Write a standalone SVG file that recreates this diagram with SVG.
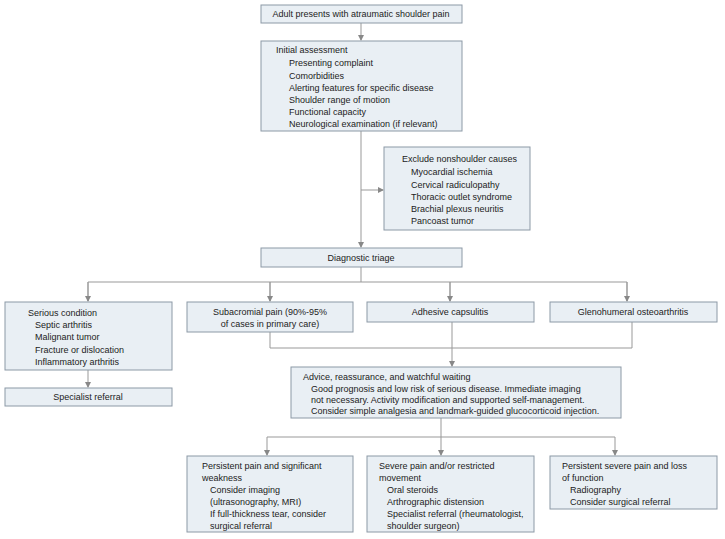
<svg xmlns="http://www.w3.org/2000/svg" width="725" height="539" viewBox="0 0 725 539">
<style>
rect{fill:#e9eff4;stroke:#8c99a6;stroke-width:1}
text{font-family:"Liberation Sans",Arial,sans-serif;font-size:9px;fill:#222}
.c{text-anchor:middle}
.l{fill:none;stroke:#999;stroke-width:1}
</style>
<defs><marker id="a" markerWidth="6" markerHeight="6" refX="5" refY="3" orient="auto" markerUnits="userSpaceOnUse"><path d="M0,0L6,3L0,6z" fill="#888"/></marker></defs>
<rect x="0" y="0" width="725" height="539" style="fill:#fff;stroke:none"/>
<g id="connectors">
<path class="l" d="M361,23V40" marker-end="url(#a)"/>
<path class="l" d="M361,131V247" marker-end="url(#a)"/>
<path class="l" d="M361,190H383" marker-end="url(#a)"/>
<path class="l" d="M361,267V282M88,282H627M88,282V301M270,282V301M450,282V301M627,282V301"/>
<path class="l" d="M88,282V301" marker-end="url(#a)"/>
<path class="l" d="M270,282V301" marker-end="url(#a)"/>
<path class="l" d="M450,282V301" marker-end="url(#a)"/>
<path class="l" d="M627,282V301" marker-end="url(#a)"/>
<path class="l" d="M88,370V387" marker-end="url(#a)"/>
<path class="l" d="M270,332V348H632V322"/>
<path class="l" d="M452,322V366" marker-end="url(#a)"/>
<path class="l" d="M441,418V437M267,437H615"/>
<path class="l" d="M267,437V455" marker-end="url(#a)"/>
<path class="l" d="M441,437V455" marker-end="url(#a)"/>
<path class="l" d="M615,437V455" marker-end="url(#a)"/>
</g>
<g id="start"><rect x="261" y="5" width="201" height="18"/><text class="c" x="361" y="17">Adult presents with atraumatic shoulder pain</text></g>
<g id="initial"><rect x="261" y="41" width="201" height="90"/>
<text x="276" y="53">Initial assessment</text>
<text x="289" y="66">Presenting complaint</text>
<text x="289" y="79">Comorbidities</text>
<text x="289" y="91">Alerting features for specific disease</text>
<text x="289" y="103">Shoulder range of motion</text>
<text x="289" y="115">Functional capacity</text>
<text x="289" y="127">Neurological examination (if relevant)</text></g>
<g id="exclude"><rect x="384" y="147" width="146" height="83"/>
<text x="402" y="162">Exclude nonshoulder causes</text>
<text x="411" y="175">Myocardial ischemia</text>
<text x="411" y="188">Cervical radiculopathy</text>
<text x="411" y="200">Thoracic outlet syndrome</text>
<text x="411" y="212">Brachial plexus neuritis</text>
<text x="411" y="224">Pancoast tumor</text></g>
<g id="triage"><rect x="261" y="248" width="201" height="19"/><text class="c" x="361" y="261">Diagnostic triage</text></g>
<g id="serious"><rect x="5" y="302" width="167" height="68"/>
<text x="28" y="316">Serious condition</text>
<text x="35" y="328">Septic arthritis</text>
<text x="35" y="340">Malignant tumor</text>
<text x="35" y="353">Fracture or dislocation</text>
<text x="35" y="365">Inflammatory arthritis</text></g>
<g id="specialist"><rect x="5" y="388" width="167" height="18"/><text class="c" x="88" y="400">Specialist referral</text></g>
<g id="subacromial"><rect x="187" y="302" width="166" height="30"/>
<text class="c" x="270" y="315">Subacromial pain (90%-95%</text>
<text class="c" x="270" y="327">of cases in primary care)</text></g>
<g id="adhesive"><rect x="367" y="302" width="167" height="20"/><text class="c" x="450" y="315">Adhesive capsulitis</text></g>
<g id="gleno"><rect x="550" y="302" width="167" height="20"/><text class="c" x="633" y="315">Glenohumeral osteoarthritis</text></g>
<g id="advice"><rect x="291" y="367" width="330" height="51"/>
<text x="303" y="380">Advice, reassurance, and watchful waiting</text>
<text x="311" y="392">Good prognosis and low risk of serious disease. Immediate imaging</text>
<text x="311" y="403">not necessary. Activity modification and supported self-management.</text>
<text x="311" y="414">Consider simple analgesia and landmark-guided glucocorticoid injection.</text></g>
<g id="weak"><rect x="187" y="456" width="166" height="76"/>
<text x="202" y="469">Persistent pain and significant</text>
<text x="202" y="481">weakness</text>
<text x="210" y="493">Consider imaging</text>
<text x="210" y="505">(ultrasonography, MRI)</text>
<text x="210" y="517">If full-thickness tear, consider</text>
<text x="210" y="529">surgical referral</text></g>
<g id="severe"><rect x="367" y="456" width="167" height="76"/>
<text x="379" y="469">Severe pain and/or restricted</text>
<text x="379" y="481">movement</text>
<text x="387" y="493">Oral steroids</text>
<text x="387" y="505">Arthrographic distension</text>
<text x="387" y="517">Specialist referral (rheumatologist,</text>
<text x="387" y="529">shoulder surgeon)</text></g>
<g id="loss"><rect x="550" y="456" width="167" height="53"/>
<text x="562" y="469">Persistent severe pain and loss</text>
<text x="562" y="481">of function</text>
<text x="570" y="493">Radiography</text>
<text x="570" y="505">Consider surgical referral</text></g>
</svg>
